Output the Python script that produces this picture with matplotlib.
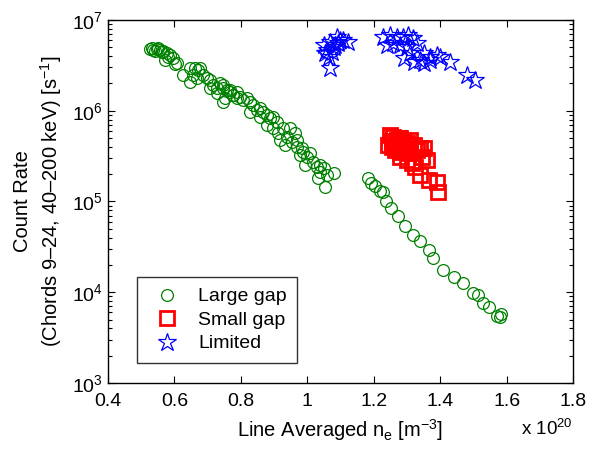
import matplotlib
matplotlib.use("Agg")
import matplotlib.pyplot as plt
from matplotlib.ticker import LogLocator, FixedLocator

plt.rcParams['font.family'] = ['Liberation Sans', 'DejaVu Sans']
plt.rcParams['mathtext.fontset'] = 'custom'
plt.rcParams['mathtext.rm'] = 'Liberation Sans'
plt.rcParams['mathtext.it'] = 'Liberation Sans'
plt.rcParams['mathtext.default'] = 'regular'

# Line averaged density (units of 1e20 m^-3) and count rate (s^-1)
large_gap_ne = [
    0.527, 0.536, 0.547, 0.557, 0.567, 0.577, 0.587, 0.597, 0.602, 0.572,
    0.562, 0.532, 0.542, 0.552, 0.582, 0.607,
    0.627, 0.647, 0.662, 0.672, 0.677, 0.657, 0.667, 0.647, 0.687, 0.697,
    0.707, 0.717, 0.727, 0.737, 0.747, 0.758, 0.768, 0.777, 0.788, 0.747,
    0.727, 0.707,
    0.747, 0.768, 0.752, 0.777, 0.788, 0.798, 0.808, 0.818, 0.828, 0.838,
    0.848, 0.858, 0.868, 0.878, 0.888, 0.898, 0.908, 0.898, 0.913, 0.928,
    0.938, 0.948, 0.963, 0.953, 0.968, 0.983, 0.978, 0.999, 1.008, 0.993,
    1.018, 1.029, 1.039, 1.049, 1.059, 1.079, 1.033, 1.054, 1.039, 0.918,
    0.933, 0.968, 0.988, 0.828, 0.858, 0.878,
    1.182, 1.192, 1.204, 1.219, 1.227, 1.237, 1.252, 1.273, 1.295, 1.318,
    1.340, 1.366, 1.380, 1.410, 1.442, 1.468, 1.500, 1.515, 1.530, 1.548,
    1.571, 1.579, 1.584,
]
large_gap_rate = [
    4.79e6, 4.67e6, 4.79e6, 4.67e6, 4.55e6, 4.30e6, 4.11e6, 3.78e6, 3.25e6, 3.62e6,
    4.48e6, 4.88e6, 4.55e6, 4.88e6, 3.94e6, 3.33e6,
    2.48e6, 2.94e6, 2.94e6, 2.81e6, 2.94e6, 2.48e6, 2.28e6, 2.09e6, 2.48e6, 2.28e6,
    2.18e6, 1.92e6, 1.77e6, 2.00e6, 1.92e6, 1.69e6, 1.62e6, 1.49e6, 1.37e6, 1.26e6,
    1.56e6, 1.77e6,
    1.77e6, 1.69e6, 1.37e6, 1.49e6, 1.62e6, 1.43e6, 1.31e6, 1.37e6, 1.26e6, 1.16e6,
    1.02e6, 1.06e6, 9.77e5, 8.98e5, 8.26e5, 8.60e5, 7.57e5, 6.41e5, 5.65e5, 6.41e5,
    5.18e5, 6.41e5, 5.65e5, 4.56e5, 4.02e5, 3.86e5, 3.25e5, 3.12e5, 3.40e5, 2.52e5,
    2.75e5, 2.42e5, 2.13e5, 2.32e5, 1.96e5, 2.05e5, 1.80e5, 1.46e5, 2.52e5, 4.76e5,
    4.20e5, 4.76e5, 3.54e5, 9.77e5, 8.60e5, 6.97e5,
    1.80e5, 1.58e5, 1.48e5, 1.32e5, 1.26e5, 1.02e5, 8.41e4, 6.92e4, 5.37e4, 4.28e4,
    3.70e4, 2.92e4, 2.37e4, 1.76e4, 1.48e4, 1.27e4, 9.89e3, 9.33e3, 7.67e3, 6.93e3,
    5.47e3, 5.38e3, 5.75e3,
]

small_gap_ne = [
    1.259, 1.270, 1.280, 1.289, 1.255, 1.265, 1.280, 1.295, 1.310, 1.320,
    1.330, 1.340, 1.350, 1.345, 1.360, 1.340, 1.365, 1.390, 1.395, 1.280,
    1.300, 1.315, 1.325, 1.243, 1.249,
    1.255, 1.262, 1.272, 1.285, 1.275, 1.300, 1.290, 1.305, 1.268,
]
small_gap_rate = [
    5.18e5, 4.76e5, 4.97e5, 4.56e5, 4.02e5, 3.70e5, 3.54e5, 3.86e5, 4.76e5, 4.20e5,
    3.70e5, 3.86e5, 3.86e5, 3.12e5, 2.87e5, 1.96e5, 1.73e5, 1.65e5, 1.28e5, 3.12e5,
    2.87e5, 2.64e5, 2.42e5, 4.20e5, 5.40e5,
    4.60e5, 4.30e5, 4.10e5, 4.20e5, 5.00e5, 4.40e5, 3.60e5, 3.40e5, 3.90e5,
]

limited_ne = [
    1.069, 1.089, 1.109, 1.124, 1.059, 1.079, 1.064, 1.069, 1.094, 1.049,
    1.074, 1.054, 1.098, 1.083,
    1.229, 1.249, 1.269, 1.289, 1.304, 1.319, 1.239, 1.259, 1.280, 1.300,
    1.330, 1.350, 1.370, 1.390, 1.340, 1.320, 1.350, 1.370, 1.400, 1.430,
    1.480, 1.505, 1.290, 1.310,
]
limited_rate = [
    5.77e6, 6.55e6, 6.03e6, 5.77e6, 4.67e6, 5.08e6, 3.94e6, 2.94e6, 5.54e6, 5.31e6,
    4.48e6, 4.30e6, 6.03e6, 5.31e6,
    6.55e6, 6.86e6, 6.55e6, 6.55e6, 6.86e6, 6.28e6, 5.31e6, 5.54e6, 5.31e6, 5.08e6,
    5.54e6, 4.30e6, 3.94e6, 4.11e6, 3.62e6, 3.47e6, 3.33e6, 3.62e6, 3.94e6, 3.47e6,
    2.48e6, 2.18e6, 3.78e6, 4.30e6,
]

x_ticks = [0.4, 0.6, 0.8, 1.0, 1.2, 1.4, 1.6, 1.8]
x_tick_labels = ['0.4', '0.6', '0.8', '1', '1.2', '1.4', '1.6', '1.8']

fig = plt.figure(figsize=(5.92, 4.51), dpi=100)
ax = fig.add_axes([0.1824, 0.1508, 0.7855, 0.8049])

ax.plot(large_gap_ne, large_gap_rate, linestyle='none', marker='o',
        markersize=8.5, markerfacecolor='none', markeredgecolor='#008000',
        markeredgewidth=0.9, label='Large gap')
ax.plot(small_gap_ne, small_gap_rate, linestyle='none', marker='s',
        markersize=10.5, markerfacecolor='none', markeredgecolor='#ff0000',
        markeredgewidth=2.0, label='Small gap')
ax.plot(limited_ne, limited_rate, linestyle='none', marker='*',
        markersize=13.5, markerfacecolor='none', markeredgecolor='#0000ff',
        markeredgewidth=0.9, label='Limited')

ax.set_yscale('log')
ax.set_xlim(0.4, 1.8)
ax.set_ylim(1e3, 1e7)
ax.xaxis.set_major_locator(FixedLocator(x_ticks))
ax.set_xticklabels(x_tick_labels)
ax.yaxis.set_major_locator(LogLocator(base=10, numticks=10))
ax.yaxis.set_minor_locator(LogLocator(base=10, subs=range(2, 10), numticks=10))

ax.tick_params(which='both', direction='in', top=True, right=True,
               labelsize=14, width=0.8, colors='black')
ax.tick_params(which='major', length=5)
ax.tick_params(which='minor', length=3)
ax.tick_params(axis='x', pad=7)
for sp in ax.spines.values():
    sp.set_linewidth(1.0)

ax.set_xlabel('Line Averaged n$_e$ [m$^{-3}$]', fontsize=14.5, labelpad=5)
ax.set_ylabel('Count Rate\n(Chords 9\u201324, 40\u2013200 keV) [s$^{-1}$]',
              fontsize=14.5, labelpad=6, linespacing=1.3)

fig.text(0.968, 0.027, 'x 10$^{20}$', fontsize=13.5, ha='right', va='bottom')

leg = ax.legend(loc='lower left', bbox_to_anchor=(0.062, 0.055), fontsize=14,
                frameon=True, fancybox=False, edgecolor='black',
                borderpad=0.55, labelspacing=0.3, handletextpad=0.6,
                borderaxespad=0.0)
leg.get_frame().set_linewidth(1.0)

fig.savefig('out.png', dpi=100)
